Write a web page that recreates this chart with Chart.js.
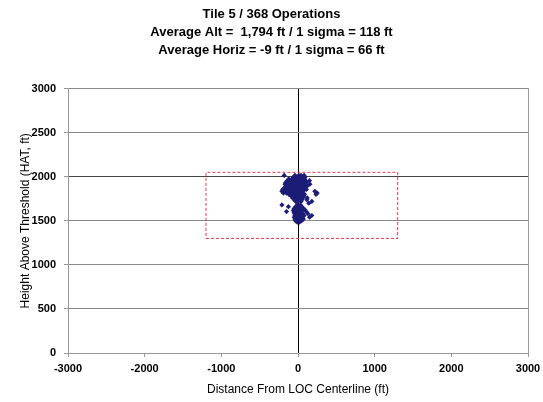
<!DOCTYPE html>
<html>
<head>
<meta charset="utf-8">
<script src="https://cdn.jsdelivr.net/npm/chart.js@4"></script>
<style>
html,body{margin:0;padding:0;background:#fff}
#wrap{width:543px;height:402px}
</style>
</head>
<body>
<div id="wrap"><canvas id="tileChart" width="543" height="402"></canvas></div>
<script>
// title lines
const titleLines = [
  "Tile 5 / 368 Operations",
  "Average Alt =  1,794 ft / 1 sigma = 118 ft",
  "Average Horiz = -9 ft / 1 sigma = 66 ft"
]

// tile box (ft)
const boxX = [-1200, 1300, 1300, -1200, -1200]
const boxY = [1300, 1300, 2050, 2050, 1300]

// approach points (ft)
const opsX = [
  -180,-40,10,40,80,
  -60,-20,0,30,60,90,
  -120,-80,-40,-10,20,50,85,
  -140,-100,-60,-30,0,30,60,100,150,
  -160,-120,-85,-50,-20,10,40,70,110,
  -170,-130,-95,-60,-30,0,35,65,95,155,
  -150,-110,-75,-45,-15,20,50,80,120,
  -180,-140,-100,-65,-35,-5,25,55,90,
  -200,-160,-120,-85,-50,-20,15,45,75,110,
  -210,-170,-130,-95,-60,-30,0,35,65,220,
  -190,-150,-110,-70,-40,-10,20,55,250,
  -120,-80,-45,-15,15,45,85,235,
  -90,-55,-25,5,40,75,
  -70,-40,-10,25,60,120,
  -50,-20,10,50,115,
  -30,0,40,180,
  -210,-125,-150,140,
  -10,30,
  -30,10,50,
  -50,-15,25,70,
  -60,-25,10,45,95,
  -55,-20,15,50,110,
  -45,-10,25,60,130,
  -40,-5,30,80,180,
  -50,-15,20,55,150,
  -40,-5,30,70,
  -30,10,45,
  -10,20
]
const opsY = [
  2015,2015,2015,2015,2015,
  1995,1995,1995,1995,1995,1995,
  1975,1975,1975,1975,1975,1975,1975,
  1955,1955,1955,1955,1955,1955,1955,1955,1955,
  1935,1935,1935,1935,1935,1935,1935,1935,1935,
  1915,1915,1915,1915,1915,1915,1915,1915,1915,1915,
  1895,1895,1895,1895,1895,1895,1895,1895,1895,
  1875,1875,1875,1875,1875,1875,1875,1875,1875,
  1855,1855,1855,1855,1855,1855,1855,1855,1855,1855,
  1835,1835,1835,1835,1835,1835,1835,1835,1835,1835,
  1815,1815,1815,1815,1815,1815,1815,1815,1815,
  1800,1800,1800,1800,1800,1800,1800,1800,
  1780,1780,1780,1780,1780,1780,
  1760,1760,1760,1760,1760,1760,
  1740,1740,1740,1740,1740,
  1720,1720,1720,1720,
  1680,1660,1605,1700,
  1680,1680,
  1660,1660,1660,
  1640,1640,1640,1640,
  1620,1620,1620,1620,1620,
  1600,1600,1600,1600,1600,
  1580,1580,1580,1580,1580,
  1560,1560,1560,1560,1560,
  1540,1540,1540,1540,1540,
  1520,1520,1520,1520,
  1500,1500,1500,
  1485,1485
]

const FONT = "'Liberation Sans', Arial, sans-serif"

new Chart(
document.getElementById("tileChart"),
{
type:"scatter",
data:{
datasets:[
{
label:"Tile box",
data: boxX.map((x,i)=>({x:x,y:boxY[i]})),
showLine:true,
borderColor:"#dc3a4a",
borderWidth:1,
borderDash:[3,2],
pointRadius:0,
fill:false
},
{
label:"Operations",
data: opsX.map((x,i)=>({x:x,y:opsY[i]})),
pointStyle:"rectRot",
pointRadius:2.6,
pointBackgroundColor:"#1d1d78",
pointBorderColor:"#1d1d78",
pointBorderWidth:0
}
]
},
options:{
responsive:false,
animation:false,
layout:{padding:{left:0,right:0,top:0,bottom:0}},
plugins:{
legend:{display:false},
tooltip:{enabled:false},
title:{
display:true,
text:titleLines,
color:"#000",
font:{family:FONT,size:13,weight:"bold",lineHeight:1.4},
padding:{top:5,bottom:29}
}
},
scales:{
x:{
type:"linear",
min:-3000,
max:3000,
afterFit:(s)=>{s.height=49; s.paddingRight=15},
ticks:{stepSize:1000,color:"#000",font:{family:FONT,size:11,weight:"bold"},padding:5,callback:(v)=>String(v)},
grid:{
color:(c)=>c.tick && c.tick.value===0 ? "#000" : "rgba(0,0,0,0)",
tickColor:"#999",
tickLength:4,
lineWidth:1
},
border:{display:true,color:"#999"},
title:{display:true,text:"Distance From LOC Centerline (ft)",color:"#000",font:{family:FONT,size:12},padding:{top:4,bottom:5}}
},
y:{
type:"linear",
min:0,
max:3000,
afterFit:(s)=>{s.width=68},
ticks:{stepSize:500,color:"#000",font:{family:FONT,size:11,weight:"bold"},padding:8,callback:(v)=>String(v)},
grid:{color:(c)=>c.tick && c.tick.value===2000 ? "#444" : "#888",tickColor:"#999",tickLength:4},
border:{display:true,color:"#999"},
title:{display:true,text:"Height Above Threshold (HAT, ft)",color:"#000",font:{family:FONT,size:12},padding:{top:18,bottom:0}}
},
y2:{
type:"linear",
position:"right",
min:0,
max:3000,
afterFit:(s)=>{s.width=0},
ticks:{display:false},
grid:{drawOnChartArea:false,drawTicks:false},
border:{display:true,color:"#999"}
}
}
}
}
)
</script>
</body>
</html>
